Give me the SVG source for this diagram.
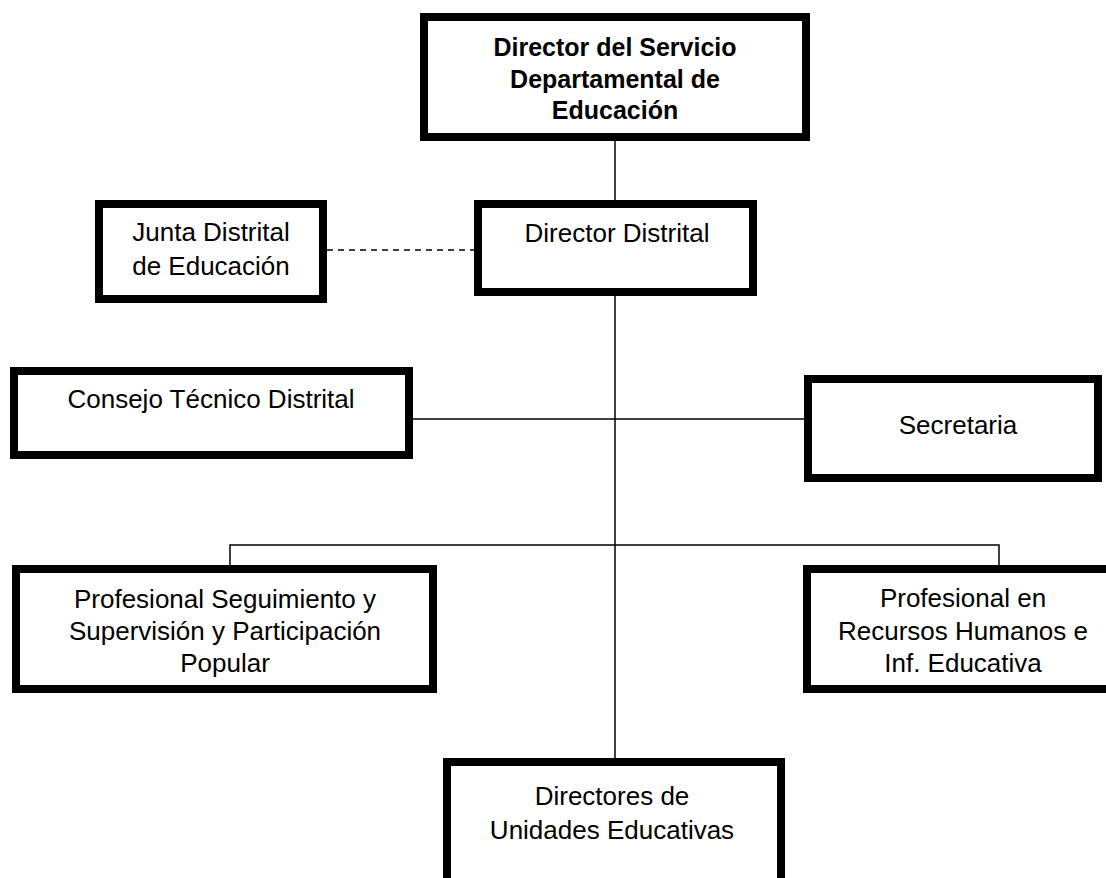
<svg xmlns="http://www.w3.org/2000/svg" width="1106" height="878" viewBox="0 0 1106 878">
<style>
.box{fill:#fff;stroke:#000;stroke-width:8}
.ln{stroke:#000;stroke-width:1.5;fill:none}
.t{font-family:"Liberation Sans",Arial,sans-serif;font-size:26px;fill:#000;text-anchor:middle}
.b{font-weight:bold;font-size:25px}
</style>
<rect width="1106" height="878" fill="#fff"/>
<g id="connectors">
<line class="ln" x1="615" y1="141" x2="615" y2="200"/>
<line class="ln" x1="327" y1="250" x2="474" y2="250" stroke-dasharray="6,5"/>
<line class="ln" x1="615" y1="296" x2="615" y2="758"/>
<line class="ln" x1="398" y1="419" x2="804" y2="419"/>
<polyline class="ln" points="230,565 230,545 999,545 999,565"/>
</g>
<g id="n-top">
<rect class="box" x="424" y="17" width="382" height="120"/>
<text class="t b" x="615" y="56">Director del Servicio</text>
<text class="t b" x="615" y="88">Departamental  de</text>
<text class="t b" x="615" y="119">Educación</text>
</g>
<g id="n-director">
<rect class="box" x="478" y="204" width="275" height="88"/>
<text class="t" x="617" y="242">Director Distrital</text>
</g>
<g id="n-junta">
<rect class="box" x="99" y="204" width="224" height="95"/>
<text class="t" x="211" y="241">Junta Distrital</text>
<text class="t" x="211" y="275">de Educación</text>
</g>
<g id="n-consejo">
<rect class="box" x="14" y="371" width="395" height="84"/>
<text class="t" x="211" y="408">Consejo Técnico Distrital</text>
</g>
<g id="n-secretaria">
<rect class="box" x="808" y="379" width="290" height="99"/>
<text class="t" x="958" y="434">Secretaria</text>
</g>
<g id="n-seguimiento">
<rect class="box" x="16" y="569" width="417" height="120"/>
<text class="t" x="225" y="608">Profesional Seguimiento y</text>
<text class="t" x="225" y="640">Supervisión y Participación</text>
<text class="t" x="225" y="672">Popular</text>
</g>
<g id="n-rrhh">
<rect class="box" x="807" y="569" width="320" height="120"/>
<text class="t" x="963" y="607">Profesional en</text>
<text class="t" x="963" y="640">Recursos Humanos e</text>
<text class="t" x="963" y="672">Inf. Educativa</text>
</g>
<g id="n-unidades">
<rect class="box" x="447" y="762" width="334" height="160"/>
<text class="t" x="612" y="805">Directores de</text>
<text class="t" x="612" y="839">Unidades Educativas</text>
</g>
</svg>
